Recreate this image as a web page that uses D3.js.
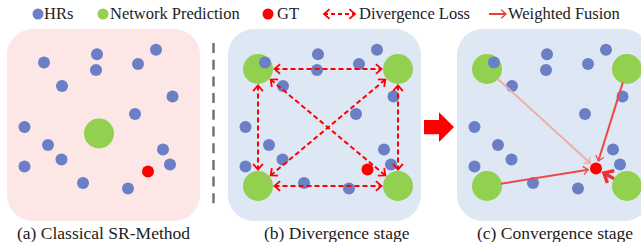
<!DOCTYPE html>
<html><head><meta charset="utf-8">
<script src="https://cdn.jsdelivr.net/npm/d3@7"></script>
<style>html,body{margin:0;padding:0;background:#fff;}svg{display:block;}</style>
</head><body>
<script>
// ---- data (panel-local coordinates, panel size 193 x 192) ----
const hrX = [37, 90, 89, 149, 131, 55, 165.5, 128, 17.5, 41, 54.5, 17.5, 76, 121, 156, 163];
const hrY = [33.5, 25.3, 41, 20.7, 35, 57, 67.5, 85, 98, 116, 130.5, 137.5, 154, 159.5, 120.5, 135.5];
const predX = [30, 170, 30, 170];
const predY = [40, 40, 157, 157];
const gtX = [141, 139.5, 139];
const gtY = [142.5, 140.5, 139.5];
const centerPredX = [92];
const centerPredY = [104.5];
const panelNames = ["(a) Classical SR-Method", "(b) Divergence stage", "(c) Convergence stage"];
const panelColors = ["#fde6e6", "#dde8f4", "#dde8f4"];
const legendLabels = ["HRs", "Network Prediction", "GT", "Divergence Loss", "Weighted Fusion"];
const divergencePairs = [[0,1],[2,3],[0,2],[1,3],[0,3],[2,1]];
const fusionWeights = [0.35, 0.8, 0.8, 1.0]; // per prediction (tl, tr, bl, br)

const W = 641, H = 242;
const svg = d3.select("body").append("svg").attr("width", W).attr("height", H);
const defs = svg.append("defs");

function vMarker(id, color, size, sw) {
  defs.append("marker").attr("id", id).attr("viewBox", "-10 -10 20 20")
    .attr("markerWidth", size).attr("markerHeight", size).attr("refX", 0).attr("refY", 0)
    .attr("orient", "auto-start-reverse").attr("markerUnits", "userSpaceOnUse")
    .append("path").attr("d", "M-8,-7 L0,0 L-8,7").attr("fill", "none")
    .attr("stroke", color).attr("stroke-width", sw).attr("stroke-dasharray", "none");
}
vMarker("divHead", "#ff0000", 14, 2.6);
vMarker("fuseHead", "#f04848", 12, 2.2);
vMarker("fuseHeadLight", "#efaaaa", 12, 2.2);
vMarker("fuseHeadBig", "#f03030", 20, 3.4);
vMarker("legHead", "#f03c3c", 12, 2.2);

const panelX = [7, 228, 457];
const panelY = 29, PW = 193, PH = 192;
const sx = panelX.map(ox => d3.scaleLinear().domain([0, PW]).range([ox, ox + PW]));
const sy = d3.scaleLinear().domain([0, PH]).range([panelY, panelY + PH]);

const BLUE = "#6a7fc5", GREEN = "#92d050", RED = "#ff0000";

panelX.forEach((ox, i) => {
  svg.append("rect").attr("x", sx[i](0)).attr("y", sy(0)).attr("width", PW).attr("height", PH)
    .attr("rx", 26).attr("fill", panelColors[i]);
});

svg.append("line").attr("x1", 213.5).attr("x2", 213.5).attr("y1", 43).attr("y2", 210)
  .attr("stroke", "#6e6e6e").attr("stroke-width", 2.4).attr("stroke-dasharray", "10,6.7");

svg.append("path").attr("d", "M424,120 L439,120 L439,112.3 L454,127 L439,142 L439,134.3 L424,134.3 Z")
  .attr("fill", RED);

function shorten(x1, y1, x2, y2, a, b) {
  const dx = x2 - x1, dy = y2 - y1, L = Math.hypot(dx, dy);
  return [x1 + dx * a / L, y1 + dy * a / L, x2 - dx * b / L, y2 - dy * b / L];
}

// panel a
{
  const g = svg.append("g");
  g.selectAll("circle.g").data(centerPredX).enter().append("circle")
    .attr("cx", d => sx[0](d)).attr("cy", (d, i) => sy(centerPredY[i])).attr("r", 15).attr("fill", GREEN);
  g.selectAll("circle.h").data(hrX).enter().append("circle")
    .attr("cx", d => sx[0](d)).attr("cy", (d, i) => sy(hrY[i])).attr("r", 6).attr("fill", BLUE);
  g.append("circle").attr("cx", sx[0](gtX[0])).attr("cy", sy(gtY[0])).attr("r", 6).attr("fill", RED);
}

// panel b
{
  const g = svg.append("g");
  g.selectAll("circle.g").data(predX).enter().append("circle")
    .attr("cx", d => sx[1](d)).attr("cy", (d, i) => sy(predY[i])).attr("r", 15).attr("fill", GREEN);
  g.selectAll("circle.h").data(hrX).enter().append("circle")
    .attr("cx", d => sx[1](d)).attr("cy", (d, i) => sy(hrY[i])).attr("r", 6).attr("fill", BLUE);
  g.append("circle").attr("cx", sx[1](gtX[1])).attr("cy", sy(gtY[1])).attr("r", 6).attr("fill", RED);
  divergencePairs.forEach(([a, b]) => {
    const s = shorten(sx[1](predX[a]), sy(predY[a]), sx[1](predX[b]), sy(predY[b]), 16.5, 16.5);
    g.append("line").attr("x1", s[0]).attr("y1", s[1]).attr("x2", s[2]).attr("y2", s[3])
      .attr("stroke", RED).attr("stroke-width", 2).attr("stroke-dasharray", "5,3")
      .attr("marker-start", "url(#divHead)").attr("marker-end", "url(#divHead)");
  });
}

// panel c
{
  const g = svg.append("g");
  g.selectAll("circle.g").data(predX).enter().append("circle")
    .attr("cx", d => sx[2](d)).attr("cy", (d, i) => sy(predY[i])).attr("r", 15).attr("fill", GREEN);
  g.selectAll("circle.h").data(hrX).enter().append("circle")
    .attr("cx", d => sx[2](d)).attr("cy", (d, i) => sy(hrY[i])).attr("r", 6).attr("fill", BLUE);
  g.append("circle").attr("cx", sx[2](gtX[2])).attr("cy", sy(gtY[2])).attr("r", 6).attr("fill", RED);
  const gx = sx[2](gtX[2]), gy = sy(gtY[2]);
  predX.forEach((px, i) => {
    const x1 = sx[2](px), y1 = sy(predY[i]);
    const big = i === 3;
    const s = shorten(x1, y1, gx, gy, big ? 15 : 14, big ? 9 : 8);
    const light = fusionWeights[i] < 0.5;
    g.append("line").attr("x1", s[0]).attr("y1", s[1]).attr("x2", s[2]).attr("y2", s[3])
      .attr("stroke", light ? "#efaaaa" : (big ? "#f03030" : "#f04848"))
      .attr("stroke-width", big ? 3.4 : 2)
      .attr("marker-end", light ? "url(#fuseHeadLight)" : (big ? "url(#fuseHeadBig)" : "url(#fuseHead)"));
  });
}

// captions
const capX = [17, 264, 477];
panelNames.forEach((t, i) => {
  svg.append("text").attr("x", capX[i]).attr("y", 238.5)
    .style("font-family", "'Liberation Serif'").style("font-size", "17.5px").style("fill", "#222")
    .text(t);
});

// legend
const LY = 14;
svg.append("circle").attr("cx", 38).attr("cy", LY).attr("r", 5.5).attr("fill", BLUE);
svg.append("circle").attr("cx", 103).attr("cy", LY).attr("r", 5.5).attr("fill", GREEN);
svg.append("circle").attr("cx", 268).attr("cy", LY).attr("r", 5.5).attr("fill", RED);
svg.append("line").attr("x1", 324).attr("x2", 355).attr("y1", LY).attr("y2", LY)
  .attr("stroke", RED).attr("stroke-width", 2).attr("stroke-dasharray", "4,3")
  .attr("marker-start", "url(#divHead)").attr("marker-end", "url(#divHead)");
svg.append("line").attr("x1", 489).attr("x2", 506).attr("y1", LY).attr("y2", LY)
  .attr("stroke", "#f03c3c").attr("stroke-width", 2).attr("marker-end", "url(#legHead)");
const legX = [44, 110, 277, 359, 508];
legendLabels.forEach((t, i) => {
  svg.append("text").attr("x", legX[i]).attr("y", 19)
    .style("font-family", "'Liberation Serif'").style("font-size", "16.5px").style("fill", "#222")
    .text(t);
});
</script>
</body></html>
